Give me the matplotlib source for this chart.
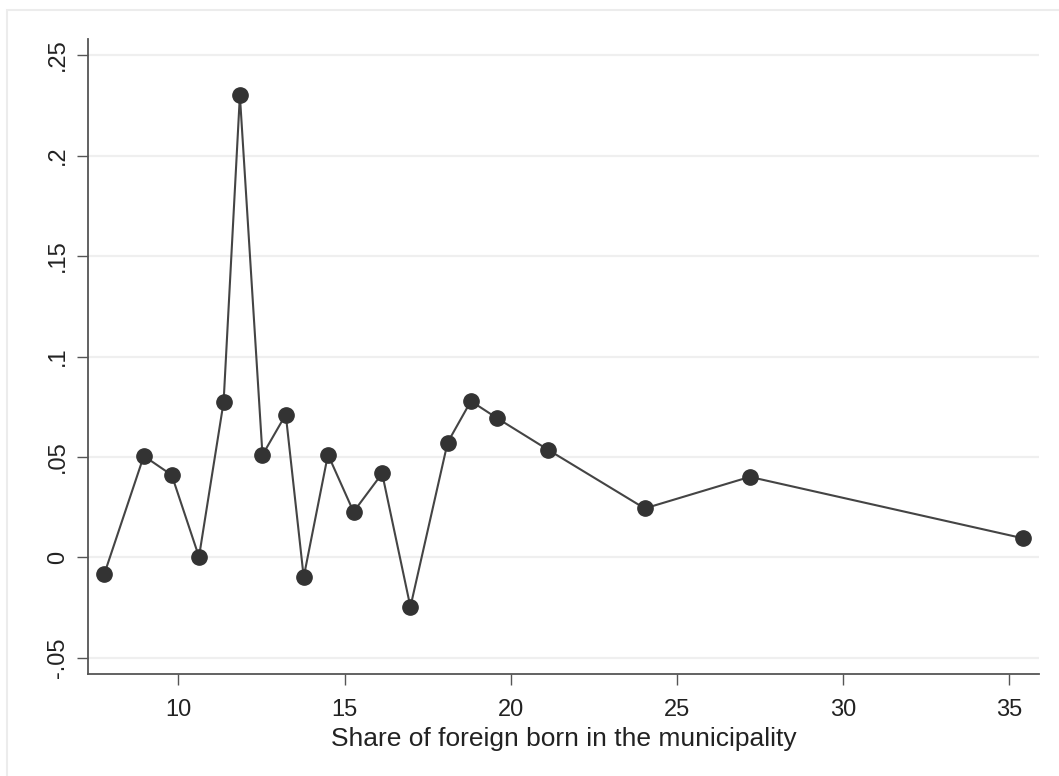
import matplotlib.pyplot as plt
from matplotlib.patches import Rectangle

# share of foreign born (%) and estimated effect
share = [7.77, 8.96, 9.80, 10.62, 11.36, 11.85, 12.53, 13.23, 13.77, 14.50,
         15.27, 16.13, 16.98, 18.10, 18.80, 19.57, 21.11, 24.03, 27.19, 35.42]
effect = [-0.0083, 0.0505, 0.041, 0.0003, 0.0773, 0.2299, 0.051, 0.0711, -0.0098, 0.0512,
          0.0227, 0.0418, -0.0246, 0.0572, 0.0778, 0.0695, 0.0537, 0.0244, 0.0401, 0.0095]

xticks = [10, 15, 20, 25, 30, 35]
yticks = [-0.05, 0, 0.05, 0.1, 0.15, 0.2, 0.25]
ylabels = ["-.05", "0", ".05", ".1", ".15", ".2", ".25"]

plt.rcParams["font.family"] = ["Liberation Sans", "DejaVu Sans"]

fig = plt.figure(figsize=(10.59, 7.76), dpi=100)
# light outer frame like the Stata graph region
fig.patches.append(Rectangle((7 / 1059, -0.05), 1.2, 1 - 10 / 776 + 0.05,
                             transform=fig.transFigure, fill=False,
                             edgecolor="#ececec", linewidth=1.5))

ax = fig.add_axes([88.3 / 1059, 1 - 674 / 776, (1039 - 88.3) / 1059, (674 - 39) / 776])

for y in yticks:
    ax.axhline(y, color="#efefef", linewidth=1.6, zorder=0)

ax.plot(share, effect, color="#444444", linewidth=1.5, marker="o",
        markersize=11, markerfacecolor="#333333", markeredgecolor="#333333", zorder=3)

ax.set_xlim(7.29, 35.89)
ax.set_ylim(-0.058, 0.258)
ax.set_xticks(xticks)
ax.set_yticks(yticks)
ax.set_yticklabels(ylabels, rotation=90, va="center")

for s in ["top", "right"]:
    ax.spines[s].set_visible(False)
for s in ["left", "bottom"]:
    ax.spines[s].set_color("#555555")
    ax.spines[s].set_linewidth(1.3)

ax.tick_params(axis="both", length=8, width=1, color="#555555", labelsize=17,
               labelcolor="#222222")
ax.tick_params(axis="x", pad=10)
ax.tick_params(axis="y", pad=6)

ax.set_xlabel("Share of foreign born in the municipality", fontsize=19,
              color="#222222", labelpad=4)

fig.savefig("out.png", dpi=100)
